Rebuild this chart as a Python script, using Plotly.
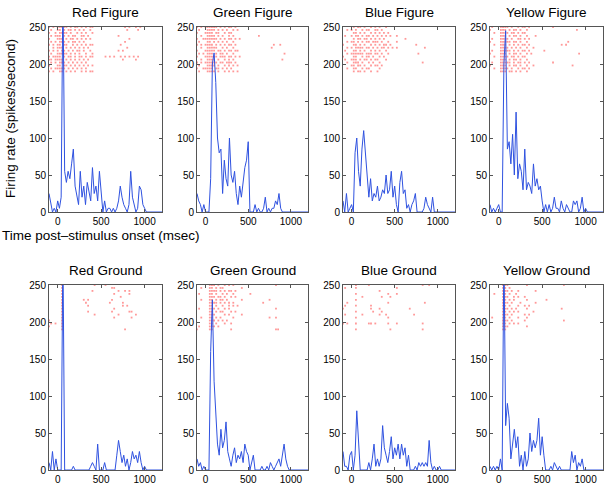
import plotly.graph_objects as go

# ---------------- data ----------------
panel_titles = ["Red Figure", "Green Figure", "Blue Figure", "Yellow Figure",
                "Red Ground", "Green Ground", "Blue Ground", "Yellow Ground"]

# PSTH time bins (ms)
time_bins = list(range(-100, 1201, 20))

red_figure = [25, 10, 0, 5, 0, 15, 5, 20, 300, 55, 40, 55, 45, 65, 85, 35, 20, 10, 55, 20,
              35, 10, 40, 25, 15, 60, 25, 35, 15, 55, 20, 0, 15, 0, 5, 5, 0, 5, 0, 5,
              15, 35, 20, 10, 5, 0, 10, 55, 20, 10, 0, 5, 35, 30, 10, 5, 0, 0, 0, 0,
              0, 0, 0, 0, 0, 0]
green_figure = [25, 15, 10, 0, 10, 0, 0, 0, 45, 200, 215, 175, 100, 80, 85, 25, 70, 45, 35, 100,
                50, 40, 55, 25, 10, 35, 20, 40, 60, 70, 95, 0, 0, 0, 10, 0, 5, 0, 0, 5,
                20, 0, 5, 0, 5, 5, 15, 10, 25, 5, 0, 0, 0, 0, 0, 0, 0, 0, 0, 0,
                0, 0, 0, 0, 0, 0]
blue_figure = [15, 0, 25, 0, 5, 10, 0, 80, 100, 55, 35, 85, 110, 75, 45, 20, 45, 15, 25, 20,
               35, 15, 20, 30, 25, 50, 25, 30, 55, 20, 35, 10, 0, 40, 55, 25, 30, 5, 10, 0,
               10, 15, 25, 0, 0, 0, 0, 5, 20, 10, 5, 0, 20, 0, 0, 0, 0, 0, 0, 0,
               0, 0, 0, 0, 0, 0]
yellow_figure = [10, 0, 5, 0, 5, 10, 0, 0, 200, 245, 85, 95, 65, 105, 50, 135, 45, 65, 55, 30,
                 85, 30, 40, 35, 25, 65, 35, 45, 30, 35, 15, 0, 10, 0, 10, 0, 5, 20, 5, 5,
                 0, 15, 5, 0, 10, 5, 0, 0, 15, 10, 15, 0, 5, 20, 0, 5, 0, 0, 0, 0,
                 0, 0, 0, 0, 0, 0]
red_ground = [10, 0, 25, 0, 15, 0, 0, 0, 300, 0, 0, 0, 0, 0, 5, 0, 0, 0, 0, 0,
              0, 0, 0, 0, 5, 10, 5, 0, 35, 0, 0, 0, 10, 0, 0, 0, 0, 0, 0, 20,
              40, 25, 10, 20, 5, 15, 0, 10, 25, 15, 20, 10, 25, 10, 0, 5, 0, 0, 0, 0,
              0, 0, 0, 0, 0, 0]
green_ground = [15, 5, 10, 0, 5, 0, 0, 0, 160, 230, 120, 85, 35, 20, 55, 30, 40, 65, 25, 15,
                5, 20, 30, 10, 20, 15, 25, 10, 35, 25, 20, 0, 10, 20, 0, 0, 0, 0, 5, 0,
                0, 5, 0, 10, 5, 0, 5, 10, 15, 5, 20, 35, 15, 5, 0, 0, 0, 0, 0, 0,
                0, 0, 0, 0, 0, 0]
blue_ground = [25, 5, 5, 0, 20, 25, 0, 20, 80, 40, 0, 0, 0, 0, 0, 10, 0, 15, 35, 5,
               15, 5, 15, 60, 30, 20, 10, 25, 45, 15, 30, 20, 35, 15, 35, 20, 30, 5, 20, 0,
               0, 0, 5, 0, 10, 5, 10, 5, 10, 5, 40, 10, 0, 5, 0, 0, 5, 0, 0, 0,
               0, 0, 0, 0, 0, 0]
yellow_ground = [5, 0, 5, 0, 5, 0, 15, 0, 300, 60, 90, 70, 15, 40, 55, 30, 45, 5, 20, 0,
                 25, 5, 15, 50, 25, 40, 30, 40, 70, 20, 45, 20, 0, 0, 0, 5, 0, 10, 5, 0,
                 5, 0, 0, 0, 0, 0, 0, 25, 10, 20, 0, 10, 5, 15, 0, 0, 0, 0, 0, 0,
                 0, 0, 0, 0, 0, 0]

psth = [red_figure, green_figure, blue_figure, yellow_figure,
        red_ground, green_ground, blue_ground, yellow_ground]

# Raster: 16 trials per panel (top trial first), one char per 25 ms bin from -100 ms
raster_start, raster_step = -100, 25
raster_rows_y = list(range(250, 189, -4))

raster_red_figure = [
    "r.r. rrrr r.r. rr.r .r.r r... .... .... ...r .r.. r.r. ....",
    ".r.. rr.r .rr. r.r. r..r .... .... .... .... r... .r.. ....",
    "r..r .rrr r.r. .r.r .r.. r... .... .... .... .... .... ....",
    ".r.r rr.r .r.r r..r r.r. .... .... .... r... .... .... ....",
    "r... rrr. r.rr .r.r .r.r .... .... .... .... .r.. .... ....",
    ".r.r .rrr .r.r r.r. r... .... .... .... ...r .... .... ....",
    "r.r. rr.r r..r .r.r .r.r r... .... .... .r.. .... .... ....",
    "..r. rrr. r.r. r.r. r.r. .... .... .... .... r... .... ....",
    "r.r. r.rr .r.r .rr. r..r .... .... .... r.r. .... .... ....",
    ".r.. rrrr r.r. r.r. .r.. r... .... .... .... .... .... ....",
    "r.rr rr.r .rr. r.rr .r.r r... ..r. r.r. .r.r .r.r .r.. ....",
    "rr.r rrr. r.r. r.r. r.r. .... .... .... ..r. .... r... ....",
    ".r.r .rrr .r.r .r.r .r.. .... .... .... .... .... .... ....",
    "r... rr.r r.r. r.r. r.r. r... .... .... .... .... .... ....",
    ".r.r rrrr .r.r .r.r .r.. .... .... .... .... .... .... ....",
    "r.r. .rr. r.r. r..r .r.r r... .... .... .... .... .... ....",
]
raster_green_figure = [
    "r.r. rrrr rr.r .r.r r.r. .... .... .... .... .... .... ....",
    ".r.. .rrr r.r. r.r. .r.r .... .... .... .... .... .... ....",
    "r... rrrr .rr. .r.r r... .... .... .... .... .... .... ....",
    "..r. .rrr r.r. r..r .r.. .... .... .r.. .... .... .... ....",
    "r..r rrrr rr.r .r.r r.r. r... .... .... .... .... .... ....",
    ".r.. .rr. r.r. r.r. .r.. .... .... .... .... .... .... ....",
    "r.r. rrrr .r.r .r.r r.r. .... .... .... .... r..r .... ....",
    "..r. .rrr rr.. r.r. .r.. .... .... .... ...r .... .... ....",
    "r... rrrr r.rr .r.r r.rr .... .... .... .... .... .... ....",
    ".r.r .rrr .r.r r.r. .r.. .... .... .... .... .... .r.. ....",
    "r... rrrr rr.r rr.r r.r. r... .... .... .... .... .... ....",
    "..r. .rrr r.r. .r.r .r.. .... .... .... .... .... r... ....",
    "r.r. rrrr rr.r r.rr r.r. .... .... .... .... .... .... ....",
    ".r.. .rrr r.r. .r.r .r.r .... .... .... .... .... .... ....",
    "r..r rrrr .rr. r.r. r... .... .... .... .... .... .... ....",
    ".r.. .rrr r.r. .r.r .r.r .... .... .... .... .... .... ....",
]
raster_blue_figure = [
    ".... .r.r r.r. .r.r .r.. r... .... .... .... .... .... ....",
    "..r. r.r. .r.r r..r r.r. .... .... .... .... .... .... ....",
    ".... .rr. r.r. .r.r .r.r .r.. .... .... .... .... .... ....",
    ".r.. r.rr .r.r r.r. r.r. r.r. .r.. .... .... .... .... ....",
    ".... .r.r r.rr .r.r .r.r .... .... .r.. .... .... .... ....",
    "..r. rr.r .r.r r.rr r.r. .r.. .r.. .... .... .... .... ....",
    "r... .rr. r.r. .r.r .r.r r.r. .... .... ..r. .... .... ....",
    "..r. r.rr rr.r r.r. r.rr .r.r .r.. .... .... ..r. .... ....",
    ".r.. .rr. r.r. .r.r .r.. r... .... .... .... .... .... ....",
    "..r. rrrr rr.r rr.r r.r. .r.. .... .... ...r .... .... ....",
    "r... .rr. .r.r r.r. .r.r .... .... .... .... .... .... ....",
    ".r.. rrr. r.rr .r.r r... r... .... .... .... .... .... ....",
    "..r. .rrr .r.. r.r. .r.. .... .... .... .... .r.. .... ....",
    ".... rr.r r.r. .r.r r.r. .... .... .... .... .... .... ....",
    "..r. .rr. .r.r r... .r.. .... .... .... .... .... .... ....",
    ".... .r.r r.r. .r.. r... .... .... .... .... .... .... ....",
]
raster_yellow_figure = [
    ".r.. .rrr r.r. .r.r r.r. .... .... .r.. .... .... .... ....",
    "r... .rrr .r.r r.r. .r.. .... .... .... .... .... r... ....",
    "..r. .rrr r.rr .r.r r... .... .... .... .... .... .... ....",
    ".... .rrr .r.r r.r. .r.. .r.. .... .... .... .... .... ....",
    ".r.. .rrr r.r. .rr. r.r. .... .... .... .... .... .... ....",
    "r... .rrr rr.r r.r. .r.. .... .... .... .... r... .... ....",
    "..r. .rrr .r.r .r.r r.r. .... .... .... .r.r .... .... ....",
    ".... .rrr r.r. r.r. .r.. r... .... .... .... .... .... ....",
    ".r.. .rrr rr.r .r.r r.r. .... .r.. .... .... .... .... ....",
    "r... .rrr .r.r r.r. .r.r .... .... .... .... .... .r.. ....",
    "..r. .rrr r.rr .r.r r... .... .... .... .... .... .... ....",
    ".... .rrr .r.r r.r. .r.. .... .... .... .... .... .... ....",
    ".r.. .rrr rr.r .rr. r.r. .... .... .r.. .... .... .... ....",
    "r... .rrr .r.r r.r. .r.. r... .... .... .... ..r. .... ....",
    "..r. .rrr r.r. .r.r r.r. .... .... .... .... .... .... ....",
    ".... .rrr .rr. r.r. .r.. .... .... .... .... .... .... ....",
]
raster_red_ground = [
    ".... ..r. .... .... .... .r.. ..r. .... .... .... .... ....",
    ".... ..r. .... .... .... .... .... .rr. .... .... .... ....",
    ".... ..r. .... .... .... r... .... .... r..r .r.. .... ....",
    ".... ..r. .... .... .... .... .... ..r. .... .r.. .... ....",
    ".... ..r. .... .... .... .... .... .... .r.. .... .... ....",
    ".... ..r. .... .... r.r. .... .... .r.. .... .... .... ....",
    ".... ..r. .... .... .r.. .... .... r... ..r. .... .... ....",
    ".... ..r. .... .... ..r. .... .... .... ..r. r... .... ....",
    ".... ..r. .... .... .... .... .... ..r. .... .... .... ....",
    ".... ..r. .... .... ..r. .... .... .r.. .... .rr. .... ....",
    ".... ..r. .... .... .... .r.. .... .... r... .... r... ....",
    ".... ..r. .... .... .... .... .... ..r. .... ..r. .... ....",
    "r... ..r. .... .... .... .... .... .... .... .... .... ....",
    ".r.r ..r. .... .... .... .... .... .... .... .... .... ....",
    "r... ..r. .... .... .... .... .... .... .... .... .... ....",
    ".... ..r. .... .... .... .... .... .... ...r .... .... ....",
]
raster_green_ground = [
    ".... ..rr r.r. .r.r .r.. .... .... .... .... .r.. .... ....",
    "..r. ..rr .r.r r... .... .r.. .... .... .... .... .... ....",
    ".... ..rr rr.r .r.r r.r. .... .... .... .... .... .... ....",
    ".r.. ..rr .r.. r.r. .r.. .... .r.. .... .... .... .... ....",
    ".... ..rr r.rr .r.. r.r. .... .... .... .... .... .... ....",
    "..r. ..rr .r.r r.r. .... .r.. .... .... ..r. .... .... ....",
    ".... ..rr rr.r .r.r .r.. .... .... ...r .... .... .... ....",
    ".... ..rr .r.. r..r .r.r .... .... .... .... .... .... ....",
    ".r.. ..rr r.r. .r.r .... .... .... .... .... .r.. .... ....",
    ".... ..rr .r.r r... r.r. .... .... .... .... .... .... ....",
    ".... ..rr r... .r.r .... .r.. .... .... .... .... .... ....",
    "..r. ..rr .r.r .... .r.. .... .... .... ..r. .r.. .... ....",
    ".... ..rr r.r. r.r. .... .... .... .... .... .... .... ....",
    ".... ..rr .r.. .r.. r... .... .... .... .... .... .... ....",
    ".r.. ..rr r.r. .... .... .... .... .... .... .... .... ....",
    "r... ..rr .... .... r... .... .... .... .... .rr. .... ....",
]
raster_blue_ground = [
    ".... ..r. .... r... .... .... .... .... .... .r.. r... ....",
    ".r.. ..r. .... .... .... .... .r.. .... .... .... .... ....",
    ".... .... .... .... .r.. .... .... .... .... .... .... ....",
    ".... ..r. .... .... .... .r.. .r.. .... .... .... .... ....",
    ".... .... .r.. .... ..r. ..r. .... .... .... .... .... ....",
    ".... ..r. .... .... .... .... .... .... .... .... .... ....",
    "..r. .... .... .... .... .r.. .... .... .... ..r. .... ....",
    ".r.. ..r. .... .r.. .... .... .... .... .... .... .... ....",
    "r... .... .... .r.. .r.. .... .... ...r .... .... .... ....",
    ".... ..r. .... ..r. ..r. .... .... .... .... .... .... ....",
    ".r.. .... .r.. .... .r.. r... .... .... .r.. .... .... ....",
    ".... ..r. .... .... .... .r.. .... .... .... .... .... ....",
    ".... .... .... .... .... .... .... .... .... .... .... ....",
    "r.r. ..r. .... rr.r .... .r.. .r.. .... .... .r.. .... ....",
    ".... .... .... .... .... .... .... .... .... .... .... ....",
    ".... ..r. .... .... .... ..r. .... .... .... .r.. .... ....",
]
raster_yellow_ground = [
    ".... ..rr r... .... .r.. .... .... .... ..r. .... .... ....",
    ".... ..rr .r.. .... .... .... .... .... .... .... .... ....",
    ".... ..rr r.r. .r.. .... .r.. .... .... .... .... .... ....",
    "..r. ..rr .r.. r... .... .... .... .... .... .... .... ....",
    ".... ..rr r..r .r.. r... .... .... .... .... .... .... ....",
    ".... ..rr .r.r .... .r.. .... ..r. .... .... .... .... ....",
    ".... ..rr r.r. ..r. .... .r.. .... .... .... .... .... ....",
    ".... ..rr .r.. .r.. r.r. .... .... .... .... .... .... ....",
    ".... ..rr r.r. r... .r.. .... .... .... .r.. .... .... ....",
    ".... ..rr .r.r .r.. .... r... .... .... .... .... .... ....",
    ".... ..rr r.r. .... r.r. .... .... .... .... .... .... ....",
    ".r.. ..rr .r.. .r.. .r.. .... .... .... .... .... .... ....",
    ".... ..rr r.r. .... r... .... .... .... ..r. .... .... ....",
    ".... ..rr .r.r .r.. .... .... .... .... .... .... .... ....",
    ".... ..rr r... .... .r.. .... .... .... .... .... .... ....",
    ".... ..rr .... .... .... .... .... .... .... .... .... ....",
]
rasters = [raster_red_figure, raster_green_figure, raster_blue_figure, raster_yellow_figure,
           raster_red_ground, raster_green_ground, raster_blue_ground, raster_yellow_ground]

x_ticks = [0, 500, 1000]
y_ticks = [0, 50, 100, 150, 200, 250]

# ---------------- layout geometry ----------------
W, H = 612, 490
col_px = [(49, 162), (197, 308), (343, 455), (490, 603)]
row_px = [(27, 212), (285, 470)]

fig = go.Figure()
layout = dict(width=W, height=H, margin=dict(l=0, r=0, t=0, b=0, pad=0),
              paper_bgcolor="white", plot_bgcolor="white", showlegend=False,
              font=dict(family="Liberation Sans, Arial, sans-serif", color="black"))
annotations = []

for i in range(8):
    r, c = divmod(i, 4)
    xa = "x" if i == 0 else f"x{i+1}"
    ya = "y" if i == 0 else f"y{i+1}"
    x0, x1 = col_px[c]
    y0, y1 = row_px[r]
    axis_common = dict(showline=True, linecolor="#555555", linewidth=1, mirror="ticks",
                       ticks="inside", ticklen=3, tickcolor="#555555", showgrid=False,
                       zeroline=False, automargin=False,
                       tickfont=dict(size=10, color="black"))
    layout["xaxis" if i == 0 else f"xaxis{i+1}"] = dict(
        domain=[x0 / W, x1 / W], range=[-100, 1200], tickvals=x_ticks,
        anchor=ya, **axis_common)
    layout["yaxis" if i == 0 else f"yaxis{i+1}"] = dict(
        domain=[1 - y1 / H, 1 - y0 / H], range=[0, 250], tickvals=y_ticks,
        anchor=xa, **axis_common)

    # raster dots (tiny light ticks)
    rx, ry = [], []
    for row_str, yv in zip(rasters[i], raster_rows_y):
        s = row_str.replace(" ", "")
        for k, ch in enumerate(s):
            if ch == "r":
                rx.append(raster_start + raster_step * k)
                ry.append(yv)
    fig.add_trace(go.Scatter(x=rx, y=ry, mode="markers", xaxis=xa, yaxis=ya,
                             marker=dict(symbol="square", size=1.8,
                                         color="rgba(255,50,50,0.5)", line=dict(width=0)),
                             hoverinfo="skip"))
    # PSTH line
    fig.add_trace(go.Scatter(x=time_bins, y=psth[i], mode="lines", xaxis=xa, yaxis=ya,
                             line=dict(color="#2f52e0", width=1)))

    annotations.append(dict(text=panel_titles[i], x=(x0 + x1) / 2 / W, y=1 - (y0 - 5) / H,
                            xref="paper", yref="paper", xanchor="center", yanchor="bottom",
                            showarrow=False, font=dict(size=13.5)))

annotations.append(dict(text="Time post\u2013stimulus onset (msec)", x=0.0, y=1 - 235 / H,
                        xref="paper", yref="paper", xanchor="left", yanchor="middle",
                        showarrow=False, font=dict(size=13.5)))
annotations.append(dict(text="Firing rate (spikes/second)", x=10 / W, y=1 - 119 / H,
                        xref="paper", yref="paper", xanchor="center", yanchor="middle",
                        textangle=-90, showarrow=False, font=dict(size=13.5)))
layout["annotations"] = annotations
fig.update_layout(**layout)
fig.write_html("out.html", config={"displayModeBar": False},
               post_script="document.body.style.margin='0';document.body.style.overflow='hidden';")
